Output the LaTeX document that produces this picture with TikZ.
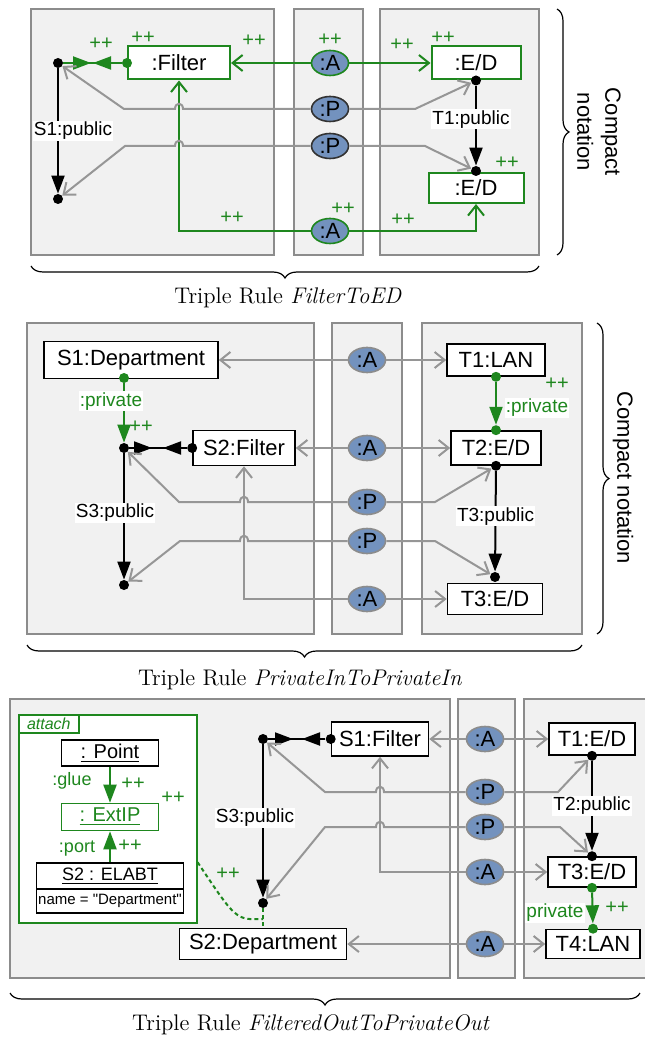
\documentclass[tikz,border=0pt]{standalone}
\usepackage{fontspec}
\setsansfont{Liberation Sans}
\newfontfamily\attrfont{Liberation Sans}[Ligatures=TeXOff]
\usetikzlibrary{arrows.meta,shapes.geometric,decorations.pathreplacing}

\definecolor{tggreen}{RGB}{30,135,30}
\definecolor{panelfill}{RGB}{241,241,241}
\definecolor{panelline}{RGB}{140,140,140}
\definecolor{mapgray}{RGB}{150,150,150}
\definecolor{corrblue}{RGB}{115,146,190}

\tikzset{
  panel/.style={draw=panelline, fill=panelfill, line width=0.9pt},
  obj/.style={draw, fill=white, line width=0.8pt, inner sep=0pt, font=\sffamily\fontsize{11}{13}\selectfont},
  newobj/.style={obj, draw=tggreen, line width=1pt},
  corr/.style={ellipse, draw=panelline, fill=corrblue, line width=0.8pt, minimum width=18.5pt, minimum height=12.5pt, inner sep=0pt, font=\sffamily\fontsize{11}{13}\selectfont},
  dot/.style={circle, fill, inner sep=0pt, minimum size=5pt},
  gdot/.style={dot, fill=tggreen},
  map/.style={draw=mapgray, line width=1pt, -{Straight Barb[length=5pt,width=8pt]}},
  gmap/.style={map, draw=tggreen},
  link/.style={line width=1pt, -{Triangle[length=9pt,width=6.5pt]}},
  glink/.style={link, draw=tggreen},
  lbl/.style={fill=white, inner sep=0.6pt, font=\sffamily\fontsize{9.5}{11}\selectfont},
  plus/.style={text=tggreen, inner sep=0pt, font=\sffamily\fontsize{10}{12}\selectfont},
  gdash/.style={tggreen, line width=1pt, dash pattern=on 2pt off 1.5pt},
  bracedn/.style={decorate, decoration={brace, mirror, amplitude=6pt}, line width=0.6pt},
  bracert/.style={decorate, decoration={brace, amplitude=6pt}, line width=0.6pt},
  note/.style={font=\sffamily\fontsize{11}{14}\selectfont, rotate=-90, align=center},
  caption/.style={font=\fontsize{11.3}{13}\selectfont},
}

\begin{document}
\begin{tikzpicture}[x=0.5pt,y=-0.5pt]
    \useasboundingbox (0,0) rectangle (645,1042);

    \draw[panel] (31,9) rectangle (274,255);
    \draw[panel] (294,9) rectangle (363,255);
    \draw[panel] (380,9) rectangle (539,255);

    \node[dot] (sa) at (58,63) {};
    \node[dot] (sb) at (58,199) {};
    \node[newobj, minimum width=51pt, minimum height=16.5pt] (filt) at (179,63) {:Filter};
    \node[gdot] (filtd) at (filt.west) {};
    \draw[line width=1pt, tggreen] (sa) -- (filtd);
    \draw[glink] (sa) -- (91,63);
    \draw[glink] (filtd) -- (93,63);
    \draw[link] (sa) -- node[lbl, xshift=7.5pt] {S1:public} (sb);

    \node[corr, draw=tggreen] (ca) at (330,63) {:A};
    \node[corr, draw=black!80] (cp) at (330,109) {:P};
    \node[corr, draw=black!80] (cq) at (330,146) {:P};
    \node[corr, draw=tggreen] (cb) at (330,231) {:A};

    \node[newobj, minimum width=44.5pt, minimum height=16.5pt] (eda) at (476,63) {:E/D};
    \node[newobj, minimum width=47.5pt, minimum height=15pt] (edb) at (476,188) {:E/D};
    \node[dot] (ta) at (eda.south) {};
    \node[dot] (tb) at (476,171) {};
    \draw[link] (ta) -- node[lbl, pos=0.42, xshift=-2.5pt] {T1:public} (tb);

    \draw[gmap] (ca) -- (filt);
    \draw[gmap] (ca) -- (eda);
    \draw[gmap] (cb.west) -| (filt.south);
    \draw[gmap] (cb.east) -| (edb.south);
    \draw[map] (cp.west) -- (183,109) .. controls (183,102) and (175,102) .. (175,109) -- (124,109) -- (sa);
    \draw[map] (cp.east) -- (415,109) -- (ta);
    \draw[map] (cq.west) -- (183,146) .. controls (183,139) and (175,139) .. (175,146) -- (125,146) -- (sb);
    \draw[map] (cq.east) -- (425,146) -- (tb);

    \foreach \x/\y [count=\k] in {101/44,143/38,254/41,330/40,402/45,443/38,507/163,232/218,343/209,403/220}
        \node[plus] (pa\k) at (\x,\y) {++};

    \draw[bracert] (557,9) -- (557,255);
    \node[note] (cn1) at (599,132) {Compact\\notation};
    \draw[bracedn] (31,266) -- (539,266);
    \node[caption] (cap1) at (288,298) {Triple Rule \textit{FilterToED}};

    \draw[panel] (27,323) rectangle (314,634);
    \draw[panel] (332,323) rectangle (402,634);
    \draw[panel] (422,323) rectangle (582,634);

    \node[obj, minimum width=87pt, minimum height=18.5pt] (dep) at (131,360) {S1:Department};
    \node[gdot] (depd) at (124,378) {};
    \node[dot] (sc) at (124,448) {};
    \node[dot] (sd) at (124,585) {};
    \node[obj, minimum width=51pt, minimum height=17.5pt] (filtb) at (244,448) {S2:Filter};
    \node[dot] (filtbd) at (filtb.west) {};
    \draw[glink] (depd) -- node[lbl, text=tggreen, pos=0.3, xshift=-6.5pt] {:private} (sc);
    \draw[line width=1pt] (sc) -- (filtbd);
    \draw[link] (sc) -- (152,448);
    \draw[link] (filtbd) -- (163,448);
    \draw[link] (sc) -- node[lbl, pos=0.47, xshift=-4.5pt] {S3:public} (sd);

    \node[obj, minimum width=49pt, minimum height=16pt] (lan) at (496,360) {T1:LAN};
    \node[gdot] (land) at (lan.south) {};
    \node[obj, minimum width=45pt, minimum height=17pt] (edc) at (496,448) {T2:E/D};
    \node[gdot] (edcd) at (edc.north) {};
    \node[dot] (te) at (edc.south) {};
    \node[obj, minimum width=47.5pt, minimum height=15.5pt] (edd) at (495,599) {T3:E/D};
    \node[dot] (tf) at (495,577) {};
    \draw[glink] (land) -- (edcd);
    \node[lbl, text=tggreen] (priv2) at (537,408) {:private};
    \draw[link] (te) -- node[lbl, pos=0.45] {T3:public} (tf);

    \foreach \n/\y/\t in {cc/360/A,cd/448/A,ce/502/P,cf/541/P,cg/599/A}
        \node[corr] (\n) at (367,\y) {:\t};

    \draw[map] (cc) -- (dep);
    \draw[map] (cc) -- (lan);
    \draw[map] (cd) -- (filtb);
    \draw[map] (cd) -- (edc);
    \draw[map] (cg.west) -| (filtb.south);
    \draw[map] (cg) -- (edd);
    \draw[map] (ce.west) -- (248,502) .. controls (248,495) and (240,495) .. (240,502) -- (179,502) -- (sc);
    \draw[map] (ce.east) -- (435,502) -- (te);
    \draw[map] (cf.west) -- (248,541) .. controls (248,534) and (240,534) .. (240,541) -- (180,541) -- (sd);
    \draw[map] (cf.east) -- (435,541) -- (tf);

    \foreach \x/\y [count=\k] in {141/427,557/384}
        \node[plus] (pb\k) at (\x,\y) {++};

    \draw[bracert] (597,323) -- (597,634);
    \node[note] (cn2) at (623,478) {Compact notation};
    \draw[bracedn] (27,645) -- (582,645);
    \node[caption] (cap2) at (300,680) {Triple Rule \textit{PrivateInToPrivateIn}};

    \draw[panel] (10,699) rectangle (450,978);
    \draw[panel] (458,699) rectangle (515,978);
    \fill[panelfill] (524,699) rectangle (645,978);
    \draw[panelline, line width=0.9pt] (645,699) -- (524,699) -- (524,978) -- (645,978);

    \node[draw=tggreen, fill=white, line width=0.8pt, minimum width=89pt, minimum height=104pt, inner sep=0pt, anchor=north west] (att) at (18,714) {};
    \node[draw=tggreen, line width=0.8pt, minimum width=30pt, minimum height=9pt, inner sep=0pt, anchor=north west, text=tggreen, font=\sffamily\itshape\fontsize{8}{9}\selectfont] (atttab) at (att.north west) {attach};
    \node[obj, minimum width=48.5pt, minimum height=13pt, font=\sffamily\fontsize{10}{12}\selectfont] (pt) at (110,753) {\underline{: Point}};
    \node[obj, draw=tggreen, text=tggreen, minimum width=48.5pt, minimum height=13.5pt, font=\sffamily\fontsize{10}{12}\selectfont] (ext) at (110,817) {\underline{: ExtIP}};
    \node[obj, minimum width=73.5pt, minimum height=13pt, font=\sffamily\fontsize{9}{11}\selectfont] (elabt) at (110,876) {\underline{S2 : ELABT}};
    \node[obj, anchor=north, yshift=0.8pt, minimum width=73.5pt, minimum height=12pt, font=\attrfont\fontsize{7.5}{9}\selectfont] (attr) at (elabt.south) {name = "Department"};
    \draw[glink] (pt) -- (ext);
    \draw[glink] (elabt) -- (ext);
    \node[text=tggreen, font=\sffamily\fontsize{9}{11}\selectfont] (glue) at (72,781) {:glue};
    \node[text=tggreen, font=\sffamily\fontsize{9}{11}\selectfont] (port) at (77,849) {:port};

    \node[dot] (sg) at (263,739) {};
    \node[dot] (sh) at (263,903) {};
    \node[obj, minimum width=48.5pt, minimum height=17pt] (filtc) at (380,739) {S1:Filter};
    \node[dot] (filtcd) at (filtc.west) {};
    \draw[line width=1pt] (sg) -- (filtcd);
    \draw[link] (sg) -- (293,739);
    \draw[link] (filtcd) -- (302,739);
    \draw[link] (sg) -- node[lbl, pos=0.48, xshift=-4pt] {S3:public} (sh);
    \node[obj, minimum width=83.5pt, minimum height=15.5pt] (dep2) at (263,944) {S2:Department};
    \draw[gdash] (att.east |- elabt.north) .. controls (236,920) .. (263,919);
    \draw[gdash] (sh) -- (dep2.north);

    \foreach \n/\y/\t in {ch/739/A,ci/792/P,cj/827/P,ck/872/A,cl/944/A}
        \node[corr] (\n) at (485,\y) {:\t};

    \node[obj, minimum width=43pt, minimum height=16pt] (ede) at (592,739) {T1:E/D};
    \node[dot] (ti) at (ede.south) {};
    \node[obj, minimum width=44pt, minimum height=15pt] (edf) at (592,872) {T3:E/D};
    \node[dot] (tj) at (edf.north) {};
    \node[gdot] (edfd) at (edf.south) {};
    \node[obj, minimum width=47pt, minimum height=14.5pt] (lan2) at (593,944) {T4:LAN};
    \node[gdot] (lan2d) at (lan2.north) {};
    \draw[link] (ti) -- node[lbl] {T2:public} (tj);
    \draw[glink] (edfd) -- (lan2d);
    \node[lbl, text=tggreen] (priv3) at (555,913) {private};

    \draw[map] (ch) -- (filtc);
    \draw[map] (ch) -- (ede);
    \draw[map] (ci.west) -- (384,792) .. controls (384,785) and (376,785) .. (376,792) -- (325,792) -- (sg);
    \draw[map] (ci.east) -- (558,792) -- (ti);
    \draw[map] (cj.west) -- (384,827) .. controls (384,820) and (376,820) .. (376,827) -- (325,827) -- (sh);
    \draw[map] (cj.east) -- (560,827) -- (tj);
    \draw[map] (ck.west) -| (filtc.south);
    \draw[map] (ck) -- (edf);
    \draw[map] (cl) -- (dep2);
    \draw[map] (cl) -- (lan2);

    \foreach \x/\y [count=\k] in {133/784,173/798,130/846,228/874,617/908}
        \node[plus] (pc\k) at (\x,\y) {++};

    \draw[bracedn] (10,993) -- (640,993);
    \node[caption] (cap3) at (311,1025) {Triple Rule \textit{FilteredOutToPrivateOut}};
\end{tikzpicture}
\end{document}
